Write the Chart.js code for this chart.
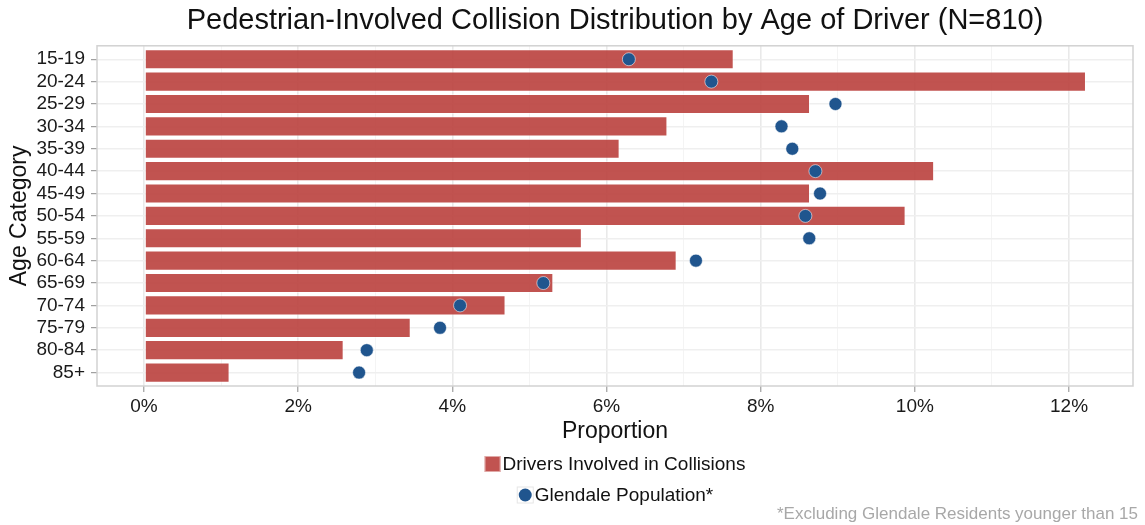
<!DOCTYPE html>
<html>
<head>
<meta charset="utf-8">
<script src="https://cdn.jsdelivr.net/npm/chart.js@4.4.0/dist/chart.umd.min.js"></script>
<style>
  html, body { margin: 0; padding: 0; background: #fff; }
  #grafica { width: 1145px; height: 525px; }
</style>
</head>
<body>
<div id="grafica"><canvas id="myChart"></canvas></div>
<script>
const ageGroups = ["15-19", "20-24", "25-29", "30-34", "35-39", "40-44", "45-49",
  "50-54", "55-59", "60-64", "65-69", "70-74", "75-79", "80-84", "85+"];
// share of the 810 drivers, in percent
const collisionShare = [7.65, 12.22, 8.64, 6.79, 6.17, 10.25, 8.64, 9.88, 5.68, 6.91, 5.31, 4.69, 3.46, 2.59, 1.11];
// share of residents aged 15+, in percent
const populationShare = [6.29, 7.36, 8.97, 8.27, 8.41, 8.71, 8.77, 8.58, 8.63, 7.16, 5.18, 4.10, 3.84, 2.89, 2.79];
const xTickValues = [0, 1, 2, 3, 4, 5, 6, 7, 8, 9, 10, 11, 12];
const xTickLabels = ["0%", "", "2%", "", "4%", "", "6%", "", "8%", "", "10%", "", "12%"];

const FONT = "'Liberation Sans', Arial, Helvetica, sans-serif";
const barFill = "rgba(186, 64, 61, 0.9)";
const dotFill = "#20558e";

// rows sit on a numeric axis so the outer padding can be 0.6 of a row
const toRows = (values) => values.map((v, i) => ({ x: v, y: i }));

// draws the plot frame, the two-row legend and the footnote
const extrasPlugin = {
  id: "extras",
  afterDraw(chart) {
    const { ctx, chartArea: a, width, height } = chart;
    ctx.save();
    ctx.strokeStyle = "#d2d2d2";
    ctx.lineWidth = 1.5;
    ctx.strokeRect(a.left, a.top, a.right - a.left, a.bottom - a.top);

    const cx = (a.left + a.right) / 2;
    ctx.font = "19px " + FONT;
    ctx.textBaseline = "middle";
    ctx.textAlign = "left";

    // row 1: bar key
    let label = "Drivers Involved in Collisions";
    let w = 18 + ctx.measureText(label).width;
    let x = cx - w / 2;
    let y = height - 61;
    ctx.fillStyle = barFill;
    ctx.fillRect(x, y - 8, 16, 16);
    ctx.strokeStyle = "rgba(255,255,255,0.5)";
    ctx.lineWidth = 1;
    ctx.strokeRect(x + 0.5, y - 7.5, 15, 15);
    ctx.fillStyle = "#111";
    ctx.fillText(label, x + 18, y + 1);

    // row 2: point key
    label = "Glendale Population*";
    w = 18 + ctx.measureText(label).width;
    x = cx - w / 2;
    y = height - 30;
    ctx.strokeStyle = "#e6e6e6";
    ctx.strokeRect(x + 0.5, y - 8, 16, 16);
    ctx.beginPath();
    ctx.arc(x + 8.5, y, 6.5, 0, Math.PI * 2);
    ctx.fillStyle = dotFill;
    ctx.fill();
    ctx.fillStyle = "#111";
    ctx.fillText(label, x + 18, y + 1);

    // footnote
    ctx.font = "17px " + FONT;
    ctx.textAlign = "right";
    ctx.fillStyle = "#a8a8a8";
    ctx.fillText("*Excluding Glendale Residents younger than 15", width - 7, height - 11);
    ctx.restore();
  }
};

function mountChart() {
  const ctx = document.getElementById("myChart");
  new Chart(ctx, {
    type: "bar",
    data: {
      datasets: [
        {
          label: "Glendale Population*",
          type: "line",
          data: toRows(populationShare),
          showLine: false,
          pointRadius: 6.5,
          pointHoverRadius: 6.5,
          pointBackgroundColor: dotFill,
          pointBorderColor: "rgba(255,255,255,0.55)",
          pointBorderWidth: 1,
          order: 0
        },
        {
          label: "Drivers Involved in Collisions",
          data: toRows(collisionShare),
          backgroundColor: barFill,
          borderColor: "rgba(255,255,255,0.45)",
          borderWidth: 1,
          borderSkipped: false,
          barPercentage: 0.9,
          categoryPercentage: 1.0,
          order: 1
        }
      ]
    },
    plugins: [extrasPlugin],
    options: {
      indexAxis: "y",
      responsive: true,
      maintainAspectRatio: false,
      animation: false,
      layout: { padding: { left: 4, right: 12, top: 0, bottom: 80 } },
      plugins: {
        legend: { display: false },
        tooltip: { enabled: false },
        title: {
          display: true,
          fullSize: false,
          text: "Pedestrian-Involved Collision Distribution by Age of Driver (N=810)",
          color: "#111",
          font: { family: FONT, size: 29, weight: "normal" },
          padding: { top: 4, bottom: 7 }
        }
      },
      scales: {
        x: {
          type: "linear",
          min: -0.61,
          max: 12.83,
          afterBuildTicks: (s) => { s.ticks = xTickValues.map((v) => ({ value: v })); },
          afterFit: (s) => { s.height = 59; },
          ticks: {
            color: "#1a1a1a",
            font: { family: FONT, size: 19 },
            padding: 3,
            maxRotation: 0,
            autoSkip: false,
            callback: (v, i) => xTickLabels[i]
          },
          grid: {
            color: (c) => (c.tick && c.tick.value % 2 === 0 ? "#e9e9e9" : "#f4f4f4"),
            lineWidth: (c) => (c.tick && c.tick.value % 2 === 0 ? 1.6 : 1),
            tickColor: (c) => (c.tick && c.tick.value % 2 === 0 ? "#8a8a8a" : "rgba(0,0,0,0)"),
            tickLength: 6,
            tickWidth: 1
          },
          border: { display: false },
          title: {
            display: true,
            text: "Proportion",
            color: "#111",
            font: { family: FONT, size: 23 },
            padding: { top: 0, bottom: 0 }
          }
        },
        y: {
          type: "linear",
          reverse: true,
          offset: false,
          min: -0.6,
          max: ageGroups.length - 0.4,
          afterBuildTicks: (s) => { s.ticks = ageGroups.map((g, i) => ({ value: i })); },
          afterFit: (s) => { s.width = 93; },
          ticks: {
            color: "#1a1a1a",
            font: { family: FONT, size: 19 },
            padding: 6,
            autoSkip: false,
            callback: (v, i) => ageGroups[i]
          },
          grid: {
            offset: false,
            color: "#efefef",
            lineWidth: 1.4,
            tickColor: "#8a8a8a",
            tickLength: 6,
            tickWidth: 1
          },
          border: { display: false },
          title: {
            display: true,
            text: "Age Category",
            color: "#111",
            font: { family: FONT, size: 23 },
            padding: { top: 2, bottom: 0 }
          }
        }
      }
    }
  });
}

mountChart();
</script>
</body>
</html>
